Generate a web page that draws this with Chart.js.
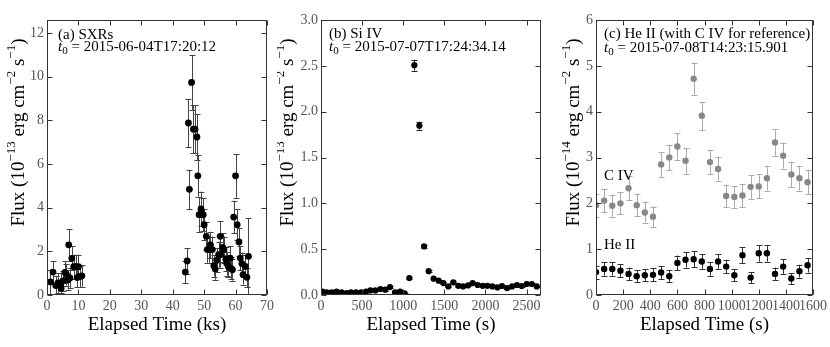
<!DOCTYPE html>
<html>
<head>
<meta charset="utf-8">
<script src="https://cdn.jsdelivr.net/npm/chart.js@4.4.1/dist/chart.umd.min.js"></script>
<style>
  body { margin: 0; background: #fff; }
  #wrap { position: relative; width: 830px; height: 347px; }
  canvas { position: absolute; top: 0; }
</style>
</head>
<body>
<div id="wrap">
  <canvas id="panelA" width="277" height="347" style="left:0"></canvas>
  <canvas id="panelB" width="274" height="347" style="left:277px"></canvas>
  <canvas id="panelC" width="279" height="347" style="left:551px"></canvas>
</div>
<script>
// ---- (a) SXRs ----
const aTime = [1.1, 1.9, 2.8, 3.5, 4.4, 4.5, 5.1, 5.7, 6.2, 6.7, 6.9, 7.3, 7.9, 8.5, 9.1, 9.6, 10.0, 10.4, 11.1,
  44.0, 44.6, 45.0, 45.3, 46.0, 46.6, 47.1, 47.7, 48.0, 48.4, 49.0, 49.7, 50.0, 50.7, 51.0, 51.6, 52.0, 52.6,
  53.1, 53.5, 54.0, 54.6, 55.1, 55.2, 55.9, 56.3, 56.9, 57.2, 57.7, 58.3, 58.5, 59.0, 59.4, 60.0, 60.5, 61.1,
  61.5, 62.0, 62.4, 63.1, 63.6, 64.1];
const aFlux = [0.6, 1.05, 0.43, 0.55, 0.55, 0.3, 0.65, 1.04, 0.93, 0.7, 2.3, 0.78, 1.68, 1.3, 1.3, 0.8, 1.3, 0.85, 0.88,
  1.05, 1.56, 7.88, 4.84, 9.74, 7.6, 7.6, 7.24, 5.46, 3.68, 3.94, 3.68, 3.22, 2.69, 2.08, 2.08, 2.3, 2.08,
  1.34, 1.2, 1.59, 1.85, 2.69, 1.85, 2.18, 2.08, 1.65, 1.44, 1.31, 1.69, 1.22, 1.16, 3.57, 5.46, 3.22, 2.43,
  1.69, 1.44, 0.93, 1.31, 0.81, 1.77];
const aErr = [0.55, 0.5, 0.45, 0.45, 0.45, 0.4, 0.45, 0.5, 0.5, 0.45, 0.72, 0.45, 0.55, 0.55, 0.55, 0.45, 0.55, 0.5, 0.5,
  0.5, 0.6, 1.1, 0.9, 1.25, 1.1, 1.1, 1.05, 0.95, 0.8, 0.8, 0.75, 0.7, 0.65, 0.6, 0.6, 0.6, 0.6,
  0.5, 0.5, 0.55, 0.6, 0.7, 0.6, 0.65, 0.6, 0.55, 0.55, 0.5, 0.55, 0.5, 0.5, 0.75, 1.0, 0.7, 0.65,
  0.55, 0.5, 0.45, 0.5, 0.45, 1.75];
const aXTicks = [0, 10, 20, 30, 40, 50, 60, 70];
const aXLabels = ['0', '10', '20', '30', '40', '50', '60', '70'];
const aYTicks = [0, 2, 4, 6, 8, 10, 12];
const aYLabels = ['0', '2', '4', '6', '8', '10', '12'];

// ---- (b) Si IV ----
const bTime = [16, 69, 130, 190, 251, 312, 365, 426, 486, 547, 600, 661, 722, 782, 839, 900, 961, 1017, 1074, 1135,
  1196, 1253, 1309, 1370, 1431, 1488, 1548, 1609, 1670, 1727, 1788, 1844, 1905, 1966, 2023, 2084, 2144, 2201,
  2262, 2323, 2383, 2440, 2501, 2562, 2623];
const bFlux = [0.036, 0.03, 0.03, 0.036, 0.03, 0.02, 0.03, 0.03, 0.03, 0.036, 0.05, 0.05, 0.065, 0.058, 0.087, 0.03,
  0.036, 0.018, 0.185, 2.507, 1.847, 0.53, 0.26, 0.178, 0.156, 0.13, 0.094, 0.138, 0.1, 0.094, 0.105, 0.13,
  0.109, 0.1, 0.1, 0.094, 0.083, 0.098, 0.076, 0.094, 0.109, 0.098, 0.12, 0.12, 0.094];
const bErr = [0.008, 0.008, 0.008, 0.008, 0.008, 0.008, 0.008, 0.008, 0.008, 0.008, 0.009, 0.009, 0.01, 0.01, 0.01, 0.008,
  0.008, 0.008, 0.012, 0.06, 0.045, 0.02, 0.012, 0.01, 0.01, 0.01, 0.009, 0.01, 0.009, 0.009, 0.009, 0.01,
  0.009, 0.009, 0.009, 0.009, 0.009, 0.009, 0.009, 0.009, 0.009, 0.009, 0.01, 0.01, 0.009];
const bXTicks = [0, 500, 1000, 1500, 2000, 2500];
const bXLabels = ['0', '500', '1000', '1500', '2000', '2500'];
const bYTicks = [0, 0.5, 1.0, 1.5, 2.0, 2.5, 3.0];
const bYLabels = ['0.0', '0.5', '1.0', '1.5', '2.0', '2.5', '3.0'];

// ---- (c) He II and C IV ----
const cTime = [0, 60, 120, 180, 240, 300, 360, 420, 480, 540, 600, 660, 720, 780, 840, 900, 960, 1020, 1080,
  1140, 1200, 1260, 1320, 1380, 1440, 1500, 1560];
const cHeII = [0.5, 0.57, 0.57, 0.53, 0.46, 0.41, 0.43, 0.44, 0.49, 0.41, 0.70, 0.77, 0.78, 0.73, 0.57, 0.73, 0.62,
  0.43, 0.87, 0.38, 0.91, 0.91, 0.46, 0.62, 0.36, 0.52, 0.65];
const cHeIIErr = [0.14, 0.15, 0.15, 0.14, 0.14, 0.13, 0.13, 0.14, 0.14, 0.13, 0.16, 0.17, 0.17, 0.16, 0.15, 0.16, 0.15,
  0.13, 0.18, 0.12, 0.18, 0.18, 0.14, 0.16, 0.12, 0.14, 0.16];
const cCIV = [1.96, 2.06, 1.95, 2.0, 2.33, 1.96, 1.80, 1.71, 2.85, 3.0, 3.24, 2.93, 4.72, 3.91, 2.90, 2.75, 2.16,
  2.14, 2.17, 2.36, 2.37, 2.55, 3.33, 3.04, 2.63, 2.55, 2.46];
const cCIVErr = [0.25, 0.25, 0.24, 0.24, 0.26, 0.24, 0.22, 0.22, 0.27, 0.28, 0.29, 0.28, 0.35, 0.31, 0.27, 0.26, 0.25,
  0.24, 0.25, 0.26, 0.26, 0.27, 0.29, 0.28, 0.27, 0.27, 0.26];
const cXTicks = [0, 200, 400, 600, 800, 1000, 1200, 1400, 1600];
const cXLabels = ['0', '200', '400', '600', '800', '1000', '1200', '1400', '1600'];
const cYTicks = [0, 1, 2, 3, 4, 5, 6];
const cYLabels = ['0', '1', '2', '3', '4', '5', '6'];

const SERIF = '"Liberation Serif", "DejaVu Serif", serif';

function fluxTitle(exp) {
  return [['Flux (10', 0], ['\u2212' + exp, 1], [' erg cm', 0], ['\u22122', 1], [' s', 0], ['\u22121', 1], [')', 0]];
}

// draw a list of [text, kind] runs, kind: 0 normal, 1 superscript, 2 subscript, 3 italic
function runFont(k, size) {
  if (k === 1 || k === 2) return Math.round(size * 0.7) + 'px ' + SERIF;
  return (k === 3 ? 'italic ' : '') + size + 'px ' + SERIF;
}
function drawRuns(ctx, runs, x, y, size) {
  const shift = [0, -size * 0.38, size * 0.25, 0];
  let cx = x;
  runs.forEach(([t, k]) => {
    ctx.font = runFont(k, size);
    ctx.fillText(t, cx, y + shift[k]);
    cx += ctx.measureText(t).width;
  });
  return cx - x;
}
function runsWidth(ctx, runs, size) {
  let w = 0;
  runs.forEach(([t, k]) => {
    ctx.font = runFont(k, size);
    w += ctx.measureText(t).width;
  });
  return w;
}

const panelDecor = {
  id: 'panelDecor',
  beforeDatasetsDraw(chart) {
    const { ctx, chartArea: a, scales: { x, y } } = chart;
    ctx.save();
    ctx.beginPath();
    ctx.rect(a.left, a.top, a.right - a.left, a.bottom - a.top);
    ctx.clip();
    chart.data.datasets.forEach(ds => {
      ctx.strokeStyle = ds.errColor;
      ctx.lineWidth = 1;
      ds.data.forEach((p, i) => {
        const e = ds.yErr[i];
        const px = Math.round(x.getPixelForValue(p.x)) + 0.5;
        const y1 = y.getPixelForValue(p.y - e), y2 = y.getPixelForValue(p.y + e);
        ctx.beginPath();
        ctx.moveTo(px, y1); ctx.lineTo(px, y2);
        ctx.moveTo(px - 3, Math.round(y1) + 0.5); ctx.lineTo(px + 3, Math.round(y1) + 0.5);
        ctx.moveTo(px - 3, Math.round(y2) + 0.5); ctx.lineTo(px + 3, Math.round(y2) + 0.5);
        ctx.stroke();
      });
    });
    ctx.restore();
  },
  afterDraw(chart, args, opts) {
    const { ctx, chartArea: a, scales: { x, y } } = chart;
    ctx.save();
    // frame and inward ticks on all four sides
    ctx.strokeStyle = '#333';
    ctx.lineWidth = 1;
    const L = Math.round(a.left) + 0.5, R = Math.round(a.right) - 0.5;
    const T = Math.round(a.top) + 0.5, B = Math.round(a.bottom) - 0.5;
    ctx.strokeRect(L, T, R - L, B - T);
    ctx.beginPath();
    x.ticks.forEach(t => {
      const px = Math.round(x.getPixelForValue(t.value)) + 0.5;
      ctx.moveTo(px, B); ctx.lineTo(px, B - 5);
      ctx.moveTo(px, T); ctx.lineTo(px, T + 5);
    });
    y.ticks.forEach(t => {
      const py = Math.round(y.getPixelForValue(t.value)) + 0.5;
      ctx.moveTo(L, py); ctx.lineTo(L + 5, py);
      ctx.moveTo(R, py); ctx.lineTo(R - 5, py);
    });
    ctx.stroke();

    // y axis title with superscripts
    ctx.fillStyle = '#000';
    ctx.textBaseline = 'middle';
    ctx.textAlign = 'left';
    const runs = fluxTitle(opts.exp);
    ctx.save();
    ctx.translate(opts.titleX, 132.5);
    ctx.rotate(-Math.PI / 2);
    const w = runsWidth(ctx, runs, 19);
    drawRuns(ctx, runs, -w / 2, 0, 19);
    ctx.restore();

    // annotations inside the plot
    opts.notes.forEach(n => drawRuns(ctx, n.runs, a.left + n.dx, n.y, 15));
    ctx.restore();
  }
};

function xAxis(min, max, ticks, labels, title) {
  return {
    type: 'linear', min, max,
    afterBuildTicks: s => { s.ticks = ticks.map(v => ({ value: v })); },
    afterFit: s => { s.height = 52; },
    grid: { display: false, drawTicks: false },
    border: { display: false },
    ticks: { font: { family: SERIF, size: 14 }, color: '#555', padding: 3, maxRotation: 0, autoSkip: false,
      callback: (v, i) => labels[i] },
    title: { display: true, text: title, color: '#000',
      font: { family: SERIF, size: 19, lineHeight: 1.2 }, padding: { top: 0, bottom: 10.6 } }
  };
}
function yAxis(min, max, ticks, labels, width) {
  return {
    type: 'linear', min, max,
    afterBuildTicks: s => { s.ticks = ticks.map(v => ({ value: v })); },
    afterFit: s => { s.width = width; },
    grid: { display: false, drawTicks: false },
    border: { display: false },
    ticks: { font: { family: SERIF, size: 14 }, color: '#555', padding: 3, autoSkip: false,
      callback: (v, i) => labels[i] }
  };
}
function series(times, vals, errs, color, errColor, r) {
  return {
    data: times.map((t, i) => ({ x: t, y: vals[i] })),
    yErr: errs, errColor,
    pointRadius: r, pointBackgroundColor: color, pointBorderWidth: 0, clip: 0
  };
}
function makePanel(id, datasets, xa, ya, padRight, decor) {
  new Chart(document.getElementById(id), {
    type: 'scatter',
    data: { datasets },
    options: {
      responsive: false, animation: false, events: [],
      layout: { padding: { top: 20, right: padRight, left: 0, bottom: 0 } },
      scales: { x: xa, y: ya },
      plugins: { legend: { display: false }, tooltip: { enabled: false }, panelDecor: decor }
    },
    plugins: [panelDecor]
  });
}

makePanel('panelA',
  [series(aTime, aFlux, aErr, '#000', '#444', 3.4)],
  xAxis(0, 70, aXTicks, aXLabels, 'Elapsed Time (ks)'),
  yAxis(0, 12.6, aYTicks, aYLabels, 47), 10,
  { titleX: 19, exp: '13', notes: [
    { dx: 11, y: 35, runs: [['(a) SXRs', 0]] },
    { dx: 11, y: 47, runs: [['t', 3], ['0', 2], [' = 2015-06-04T17:20:12', 0]] }
  ] });

makePanel('panelB',
  [series(bTime, bFlux, bErr, '#000', '#222', 3.1)],
  xAxis(0, 2675, bXTicks, bXLabels, 'Elapsed Time (s)'),
  yAxis(0, 3, bYTicks, bYLabels, 44), 10,
  { titleX: 11, exp: '13', notes: [
    { dx: 8, y: 34, runs: [['(b) Si IV', 0]] },
    { dx: 8, y: 47, runs: [['t', 3], ['0', 2], [' = 2015-07-07T17:24:34.14', 0]] }
  ] });

makePanel('panelC',
  [series(cTime, cCIV, cCIVErr, '#888', '#aaa', 3.2),
   series(cTime, cHeII, cHeIIErr, '#000', '#333', 3.2)],
  xAxis(0, 1600, cXTicks, cXLabels, 'Elapsed Time (s)'),
  yAxis(0, 6, cYTicks, cYLabels, 45), 14,
  { titleX: 23, exp: '14', notes: [
    { dx: 8, y: 34, runs: [['(c) He II (with C IV for reference)', 0]] },
    { dx: 8, y: 48, runs: [['t', 3], ['0', 2], [' = 2015-07-08T14:23:15.901', 0]] },
    { dx: 8, y: 176, runs: [['C IV', 0]] },
    { dx: 8, y: 245, runs: [['He II', 0]] }
  ] });
</script>
</body>
</html>
